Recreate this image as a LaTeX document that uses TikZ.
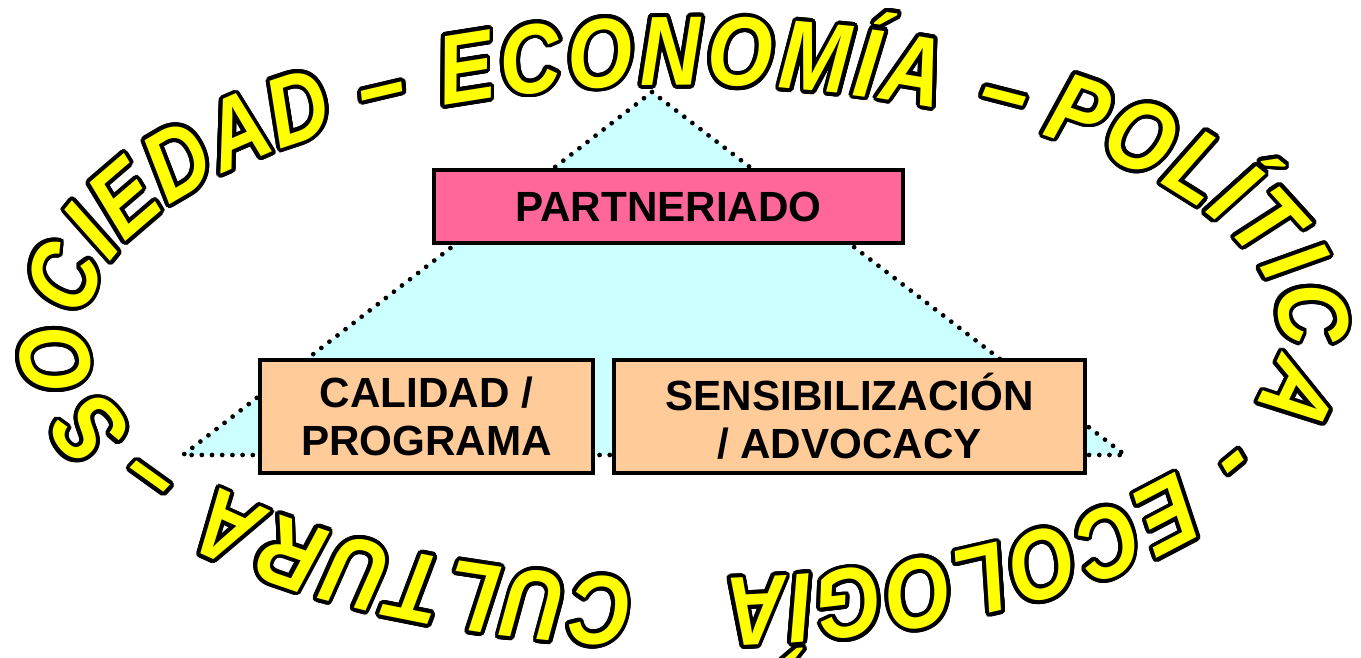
\documentclass[tikz,border=0pt]{standalone}
\usepackage{fontspec}
\setmainfont{Liberation Sans}
\newfontfamily\ringfont{Liberation Sans}[FakeStretch=0.85]
\usepackage{contour}
\contourlength{1.1pt}
\contournumber{24}
\usetikzlibrary{decorations.text,calc}
\definecolor{ringyellow}{HTML}{FFFF00}
\definecolor{partpink}{HTML}{FF6699}
\definecolor{peach}{HTML}{FFCC99}
\definecolor{tricyan}{HTML}{CCFFFF}
\newcommand\ringchar[1]{\contour{black}{#1}}
\newcommand\ringsel{\ringfont\bfseries\itshape\fontsize{28}{28}\selectfont}
\newcommand\ringarc[4]{\path[#1={#2}] ($(c)+(#3:597 and 247)$) arc[start angle=#3, end angle=#4, x radius=597, y radius=247];}
\begin{document}
\begin{tikzpicture}[x=0.01cm,y=0.01cm,
  box/.style={draw=black, line width=1.1pt, inner sep=0pt, align=center,
     font=\bfseries\fontsize{12}{13.7}\selectfont},
  tri/.style={fill=tricyan, draw=black, line width=1.35pt, dash pattern=on 0pt off 2.9pt, line cap=round},
  ringfit/.style={decorate, decoration={text effects along path, text={#1},
     text effects/.cd, text along path, fit text to path, character command=\ringchar,
     characters={text=ringyellow, font=\ringsel, inner sep=0pt}}},
  ringleft/.style={decorate, decoration={text effects along path, text={#1},
     text effects/.cd, text along path, character command=\ringchar,
     characters={text=ringyellow, font=\ringsel, inner sep=0pt}}},
]
\useasboundingbox (0,0) rectangle (1361,658);
\coordinate (c) at (683,326);
% triangle
\coordinate (apex) at (652,566);
\coordinate (bl) at (183,203);
\coordinate (br) at (1125,203);
\draw[tri] (apex) -- (bl) -- (br) -- cycle;
% boxes
\node[box, fill=partpink, minimum width=4.69cm, minimum height=0.73cm] (part) at (668.5,451.5) {PARTNERIADO};
\node[box, fill=peach, minimum width=3.33cm, minimum height=1.13cm] (cal) at (426.5,241.5) {CALIDAD /\\PROGRAMA};
\node[box, fill=peach, minimum width=4.71cm, minimum height=1.13cm] (sens) at (849.5,241.5) {SENSIBILIZACIÓN\\/ ADVOCACY};
% ring text
\ringarc{ringfit}{SOCIEDAD}{203.3}{125.4}
\ringarc{ringleft}{–}{122.1}{105}
\ringarc{ringfit}{ECONOMÍA}{113.7}{64.7}
\ringarc{ringleft}{–}{60.7}{45}
\ringarc{ringfit}{POLÍTICA}{53.1}{-17.4}
\ringarc{ringleft}{-}{-24.2}{-40}
\ringarc{ringfit}{ECOLOGÍA}{-34.3}{-86}
\ringarc{ringfit}{CULTURA}{-94.8}{-141.7}
\ringarc{ringleft}{–}{-146.5}{-165}
\end{tikzpicture}
\end{document}
